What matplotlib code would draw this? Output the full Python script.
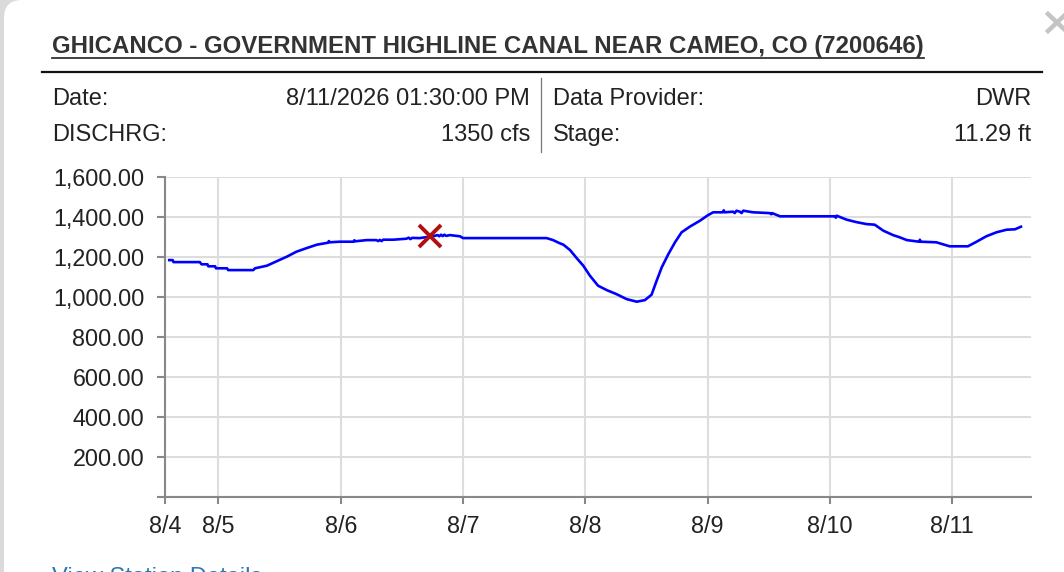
import matplotlib
matplotlib.use("Agg")
import matplotlib.pyplot as plt
import pandas as pd
from matplotlib.patches import FancyBboxPatch, Rectangle
from matplotlib.lines import Line2D

W, H = 1064, 572
plt.rcParams["font.family"] = ["Liberation Sans", "DejaVu Sans"]

# header texts
title = "GHICANCO - GOVERNMENT HIGHLINE CANAL NEAR CAMEO, CO (7200646)"
left_labels = ["Date:", "DISCHRG:"]
left_values = ["8/11/2026 01:30:00 PM", "1350 cfs"]
right_labels = ["Data Provider:", "Stage:"]
right_values = ["DWR", "11.29 ft"]
link_text = "View Station Details"

# discharge series (cfs)
times = [
    "2026-08-04 14:20", "2026-08-04 15:00", "2026-08-04 15:10", "2026-08-04 20:20",
    "2026-08-04 20:40", "2026-08-04 21:50", "2026-08-04 22:00", "2026-08-04 23:20",
    "2026-08-04 23:30", "2026-08-05 01:40", "2026-08-05 01:54", "2026-08-05 06:50",
    "2026-08-05 07:10", "2026-08-05 09:30", "2026-08-05 11:24", "2026-08-05 13:24",
    "2026-08-05 15:18", "2026-08-05 17:18", "2026-08-05 19:18", "2026-08-05 21:30",
    "2026-08-05 21:40", "2026-08-05 21:50", "2026-08-05 23:48", "2026-08-06 02:30",
    "2026-08-06 02:40", "2026-08-06 02:50", "2026-08-06 05:06", "2026-08-06 07:00",
    "2026-08-06 07:20", "2026-08-06 07:40", "2026-08-06 08:00", "2026-08-06 08:20",
    "2026-08-06 10:18", "2026-08-06 12:54", "2026-08-06 13:20", "2026-08-06 13:40",
    "2026-08-06 14:00", "2026-08-06 15:30", "2026-08-06 18:12", "2026-08-06 19:00",
    "2026-08-06 19:20", "2026-08-06 19:40", "2026-08-06 20:00", "2026-08-06 20:20",
    "2026-08-06 20:40", "2026-08-06 21:24", "2026-08-06 23:24", "2026-08-07 00:00",
    "2026-08-07 16:24", "2026-08-07 17:40", "2026-08-07 19:00", "2026-08-07 19:42",
    "2026-08-07 21:00", "2026-08-07 22:18", "2026-08-07 23:36", "2026-08-08 00:54",
    "2026-08-08 02:30", "2026-08-08 04:12", "2026-08-08 06:06", "2026-08-08 08:06",
    "2026-08-08 10:06", "2026-08-08 11:42", "2026-08-08 13:00", "2026-08-08 14:00",
    "2026-08-08 15:00", "2026-08-08 16:18", "2026-08-08 17:36", "2026-08-08 18:54",
    "2026-08-08 20:30", "2026-08-08 22:30", "2026-08-09 00:06", "2026-08-09 01:06",
    "2026-08-09 03:00", "2026-08-09 03:10", "2026-08-09 03:20", "2026-08-09 05:00",
    "2026-08-09 05:20", "2026-08-09 05:40", "2026-08-09 06:20", "2026-08-09 06:40",
    "2026-08-09 07:00", "2026-08-09 08:54", "2026-08-09 12:12", "2026-08-09 12:30",
    "2026-08-09 12:40", "2026-08-09 14:12", "2026-08-10 01:00", "2026-08-10 01:10",
    "2026-08-10 01:20", "2026-08-10 03:18", "2026-08-10 05:12", "2026-08-10 07:12",
    "2026-08-10 08:48", "2026-08-10 10:30", "2026-08-10 12:24", "2026-08-10 13:42",
    "2026-08-10 15:06", "2026-08-10 17:30", "2026-08-10 17:40", "2026-08-10 17:50",
    "2026-08-10 20:54", "2026-08-10 23:30", "2026-08-11 03:06", "2026-08-11 04:48",
    "2026-08-11 06:42", "2026-08-11 08:42", "2026-08-11 10:42", "2026-08-11 12:20",
    "2026-08-11 13:30",
]
flow = [
    1183, 1183, 1173, 1173,
    1162, 1162, 1152, 1152,
    1142, 1142, 1133, 1133,
    1142, 1155, 1177, 1200,
    1225, 1243, 1260, 1270,
    1278, 1272, 1275, 1275,
    1282, 1277, 1283, 1283,
    1278, 1284, 1278, 1285,
    1285, 1290, 1295, 1288,
    1294, 1293, 1303, 1308,
    1302, 1310, 1303, 1310,
    1304, 1308, 1302, 1293,
    1293, 1283, 1267, 1260,
    1233, 1193, 1155, 1105,
    1055, 1033, 1013, 988,
    975, 983, 1010, 1080,
    1147, 1213, 1272, 1322,
    1350, 1380, 1408, 1422,
    1422, 1432, 1422, 1425,
    1418, 1430, 1425, 1418,
    1430, 1422, 1418, 1412,
    1418, 1402, 1402, 1395,
    1405, 1385, 1373, 1363,
    1360, 1330, 1308, 1297,
    1283, 1275, 1285, 1275,
    1272, 1252, 1252, 1275,
    1302, 1322, 1335, 1337,
    1350,
]

# highlighted point
marker_time = "2026-08-06 17:30"
marker_flow = 1302

# axes range and ticks
x_start = "2026-08-04 13:30"
x_end = "2026-08-11 15:25"
tick_times = ["2026-08-04 13:30", "2026-08-05 00:00", "2026-08-06 00:00", "2026-08-07 00:00",
              "2026-08-08 00:00", "2026-08-09 00:00", "2026-08-10 00:00", "2026-08-11 00:00"]
tick_labels = ["8/4", "8/5", "8/6", "8/7", "8/8", "8/9", "8/10", "8/11"]
y_ticks = [0, 200, 400, 600, 800, 1000, 1200, 1400, 1600]


def fx(x):
    return x / W


def fy(y):
    return 1 - y / H


fig = plt.figure(figsize=(W / 100, H / 100), dpi=100)
fig.patch.set_facecolor("white")

# popup frame on the left
fig.add_artist(Rectangle((0, 0), fx(4), 1, transform=fig.transFigure,
                         facecolor="#dadada", edgecolor="none", zorder=0))
fig.add_artist(Rectangle((0, fy(24)), fx(24), 24 / H, transform=fig.transFigure,
                         facecolor="#dadada", edgecolor="none", zorder=0))
fig.add_artist(FancyBboxPatch((4, -40), 1200, H + 40, boxstyle="round,pad=0,rounding_size=18",
                              transform=None, facecolor="white", edgecolor="none", zorder=1))

# close cross (cut at the right)
for dx in (1, -1):
    fig.add_artist(Line2D([fx(1057 - 9 * dx), fx(1057 + 9 * dx)], [fy(14), fy(31)],
                          color="#c4c4c4", lw=3.2, zorder=2))

# title with underline
t = fig.text(fx(52), fy(53), title, fontsize=17.3, fontweight="bold", color="#333333",
             ha="left", va="baseline", zorder=3)
fig.canvas.draw()
bb = t.get_window_extent()
fig.add_artist(Line2D([bb.x0 / W, bb.x1 / W], [fy(57.5), fy(57.5)], color="#333333", lw=1.3, zorder=3))

fig.add_artist(Line2D([fx(42), fx(1042)], [fy(72), fy(72)], color="#111111", lw=1.6, zorder=3))
fig.add_artist(Line2D([fx(541), fx(541)], [fy(78), fy(152)], color="#777777", lw=0.9, zorder=3))

rows_y = [105, 141]
for i in range(2):
    fig.text(fx(52), fy(rows_y[i]), left_labels[i], fontsize=17, color="#222222", va="baseline", zorder=3)
    fig.text(fx(530), fy(rows_y[i]), left_values[i], fontsize=17, color="#222222", ha="right",
             va="baseline", zorder=3)
    fig.text(fx(553), fy(rows_y[i]), right_labels[i], fontsize=17, color="#222222", va="baseline", zorder=3)
    fig.text(fx(1031), fy(rows_y[i]), right_values[i], fontsize=17, color="#222222", ha="right",
             va="baseline", zorder=3)

fig.text(fx(52), fy(584), link_text, fontsize=17, color="#2a7ab0", va="baseline", zorder=3)

# chart
ax = fig.add_axes([fx(165), fy(496.7), 865.7 / W, 320 / H], zorder=4)
ax.set_facecolor("none")
t_vals = pd.to_datetime(times)
ax.plot(t_vals, flow, color="#0000ff", lw=1.9, zorder=3)
ax.plot(pd.to_datetime([marker_time]), [marker_flow], marker="x", color="#b01010",
        markersize=16, mew=2.8, zorder=4)

ax.set_xlim(pd.to_datetime(x_start), pd.to_datetime(x_end))
ax.set_ylim(0, 1600)
ax.set_xticks(pd.to_datetime(tick_times))
ax.set_xticklabels(tick_labels)
ax.set_yticks(y_ticks)
ax.set_yticklabels(["" if v == 0 else f"{v:,.2f}" for v in y_ticks])

ax.grid(True, color="#dddddd", lw=1.5)
ax.set_axisbelow(True)
for side in ("top", "right"):
    ax.spines[side].set_visible(False)
for side in ("left", "bottom"):
    ax.spines[side].set_color("#888888")
    ax.spines[side].set_linewidth(1.5)
ax.tick_params(axis="y", length=6, width=1.5, color="#888888", pad=9, labelsize=16.8, labelcolor="#222222")
ax.tick_params(axis="x", length=5, width=1.5, color="#888888", pad=8, labelsize=16.8, labelcolor="#222222")

fig.savefig("out.png", dpi=100)
